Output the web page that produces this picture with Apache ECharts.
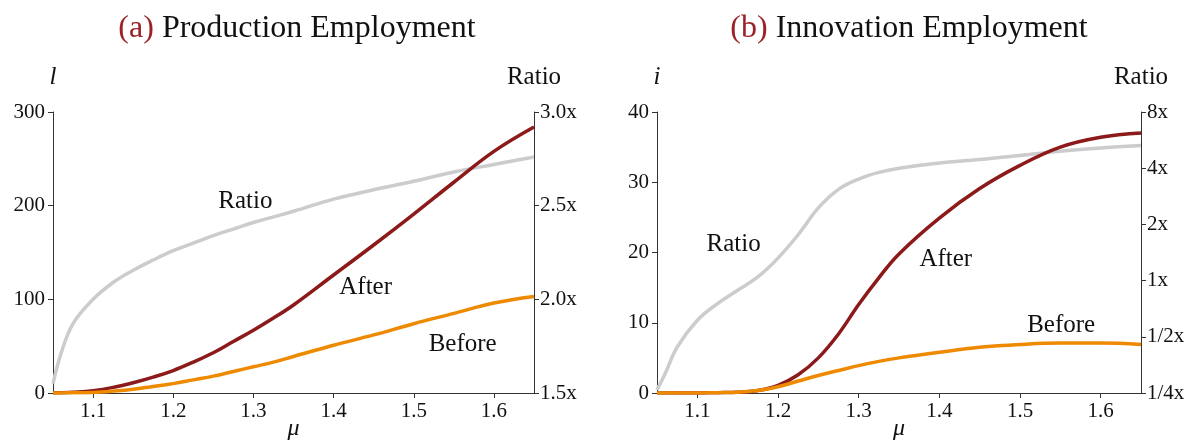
<!DOCTYPE html>
<html><head><meta charset="utf-8">
<script src="https://cdn.jsdelivr.net/npm/echarts@6/dist/echarts.min.js"></script>
<style>html,body{margin:0;padding:0;background:#fff}#c{width:1198px;height:443px}</style>
</head><body><div id="c"></div>
<script>
// ---- Data ----
const mu = [1.05,1.06,1.075,1.1,1.125,1.15,1.175,1.2,1.225,1.25,1.275,1.3,1.325,1.35,1.4,1.45,1.5,1.55,1.6,1.65];
// Panel (a): production employment
const prodAfter  = [0,0.2,0.8,2.5,6,11,17,24,33,43,55,67,80,94,126,158,191,225,258,284];
const prodBefore = [0,0.1,0.2,0.6,2,4,7,10,14,18,23,28,33,39,51,62,74,85,96,103];
const prodRatio  = [1.55,1.71,1.87,2.0,2.09,2.155,2.21,2.26,2.30,2.34,2.375,2.41,2.44,2.47,2.535,2.585,2.63,2.68,2.72,2.76];
// Panel (b): innovation employment
const innoAfter  = [0,0,0,0,0.05,0.1,0.35,1.1,2.6,5.0,8.4,12.6,16.4,19.8,24.9,29.1,32.4,35.0,36.4,37.0];
const innoBefore = [0,0,0,0,0.05,0.1,0.35,0.9,1.7,2.5,3.2,3.9,4.5,5.0,5.8,6.5,6.9,7.1,7.1,6.9];
const innoRatio  = [0.26,0.317,0.44,0.613,0.753,0.888,1.046,1.32,1.76,2.45,3.08,3.5,3.8,4.0,4.27,4.45,4.68,4.93,5.13,5.3];
// Ticks
const xTicks = [1.1,1.2,1.3,1.4,1.5,1.6];
const logTicks = [0.25,0.5,1,2,4,8];
const logTickLabels = ['1/4x','1/2x','1x','2x','4x','8x'];
// Annotations [mu, value, text]
const annotA = [[1.29,204,'Ratio'],[1.44,113,'After'],[1.561,52,'Before']];
const annotB = [[1.145,21.2,'Ratio'],[1.408,19.0,'After'],[1.551,9.6,'Before']];

const FONT = 'Liberation Serif';
const RED = '#8c1a1a', ORANGE = '#ee8a00', GRAY = '#cccccc', DARK = '#111111', AX = '#333';

const zip = (a) => mu.map((m,i)=>[m,a[i]]);

function xAxis(gi){
  return {type:'value', gridIndex:gi, min:1.05, max:1.65,
    name:'μ', nameLocation:'middle', nameGap:24, nameMoveOverlap:false,
    nameTextStyle:{fontFamily:FONT, fontStyle:'italic', fontSize:24, color:DARK},
    axisLine:{show:true, lineStyle:{color:AX, width:1}},
    axisTick:{show:true, length:5, customValues:xTicks, lineStyle:{color:AX}},
    axisLabel:{customValues:xTicks, fontFamily:FONT, fontSize:21, color:DARK, margin:8,
      formatter:v=>v.toFixed(1)},
    splitLine:{show:false}};
}
function yLeft(gi, max, interval, name){
  return {type:'value', gridIndex:gi, min:0, max:max, interval:interval, position:'left',
    name:name, nameLocation:'end', nameGap:22,
    nameTextStyle:{fontFamily:FONT, fontStyle:'italic', fontSize:25, color:DARK, align:'center'},
    axisLine:{show:true, lineStyle:{color:AX, width:1}},
    axisTick:{show:true, length:5, lineStyle:{color:AX}},
    axisLabel:{fontFamily:FONT, fontSize:21, color:DARK, margin:8},
    splitLine:{show:false}};
}
const labelPos = {position:'inside', fontFamily:FONT, fontSize:25, color:DARK};
const titleRich = {r:{fill:'#9b2226',fontFamily:FONT,fontSize:32},k:{fill:DARK,fontFamily:FONT,fontSize:32}};

const option = {
  animation:false,
  backgroundColor:'#fff',
  graphic:[
    {type:'text', x:297, y:29, style:{rich:titleRich, text:'{r|(a)}{k| Production Employment}', align:'center', verticalAlign:'middle'}},
    {type:'text', x:909, y:29, style:{rich:titleRich, text:'{r|(b)}{k| Innovation Employment}', align:'center', verticalAlign:'middle'}}
  ],
  grid:[
    {left:53, right:664, top:112, bottom:50, containLabel:false, outerBoundsMode:'none'},
    {left:657, right:57, top:112, bottom:50, containLabel:false, outerBoundsMode:'none'}
  ],
  xAxis:[xAxis(0), xAxis(1)],
  yAxis:[
    yLeft(0,300,100,'l'),
    {type:'value', gridIndex:0, min:1.5, max:3.0, interval:0.5, position:'right',
      name:'Ratio', nameLocation:'end', nameGap:22,
      nameTextStyle:{fontFamily:FONT, fontSize:25, color:DARK, align:'center'},
      axisLine:{show:true, lineStyle:{color:AX, width:1}},
      axisTick:{show:true, length:5, lineStyle:{color:AX}},
      axisLabel:{fontFamily:FONT, fontSize:21, color:DARK, margin:6, formatter:v=>v.toFixed(1)+'x'},
      splitLine:{show:false}},
    yLeft(1,40,10,'i'),
    {type:'log', logBase:2, gridIndex:1, min:0.25, max:8, position:'right',
      name:'Ratio', nameLocation:'end', nameGap:22,
      nameTextStyle:{fontFamily:FONT, fontSize:25, color:DARK, align:'center'},
      axisLine:{show:true, lineStyle:{color:AX, width:1}},
      axisTick:{show:true, length:5, customValues:logTicks, lineStyle:{color:AX}},
      axisLabel:{customValues:logTicks, fontFamily:FONT, fontSize:21, color:DARK, margin:6,
        formatter:v=>{let best=0;for(let k=1;k<logTicks.length;k++){if(Math.abs(logTicks[k]-v)<Math.abs(logTicks[best]-v))best=k;}return logTickLabels[best];}},
      splitLine:{show:false}}
  ],
  series:[
    {type:'line', xAxisIndex:0, yAxisIndex:1, data:zip(prodRatio), smooth:0.4, showSymbol:false, lineStyle:{color:GRAY,width:3.5}, z:1},
    {type:'line', xAxisIndex:0, yAxisIndex:0, data:zip(prodAfter), smooth:0.4, showSymbol:false, lineStyle:{color:RED,width:3.5}, z:2},
    {type:'line', xAxisIndex:0, yAxisIndex:0, data:zip(prodBefore), smooth:0.4, showSymbol:false, lineStyle:{color:ORANGE,width:3.5}, z:3},
    {type:'scatter', xAxisIndex:0, yAxisIndex:0, symbolSize:0, silent:true, itemStyle:{opacity:1},
      data:annotA.map(a=>({value:[a[0],a[1]], name:a[2]})), label:{show:true, formatter:p=>p.name, ...labelPos}, z:5},
    {type:'line', xAxisIndex:1, yAxisIndex:3, data:zip(innoRatio), smooth:0.4, showSymbol:false, lineStyle:{color:GRAY,width:3.5}, z:1},
    {type:'line', xAxisIndex:1, yAxisIndex:2, data:zip(innoAfter), smooth:0.4, showSymbol:false, lineStyle:{color:RED,width:3.5}, z:2},
    {type:'line', xAxisIndex:1, yAxisIndex:2, data:zip(innoBefore), smooth:0.4, showSymbol:false, lineStyle:{color:ORANGE,width:3.5}, z:3},
    {type:'scatter', xAxisIndex:1, yAxisIndex:2, symbolSize:0, silent:true, itemStyle:{opacity:1},
      data:annotB.map(a=>({value:[a[0],a[1]], name:a[2]})), label:{show:true, formatter:p=>p.name, ...labelPos}, z:5}
  ]
};
const chart = echarts.init(document.getElementById('c'), null, {renderer:'canvas'});
chart.setOption(option);
</script></body></html>
